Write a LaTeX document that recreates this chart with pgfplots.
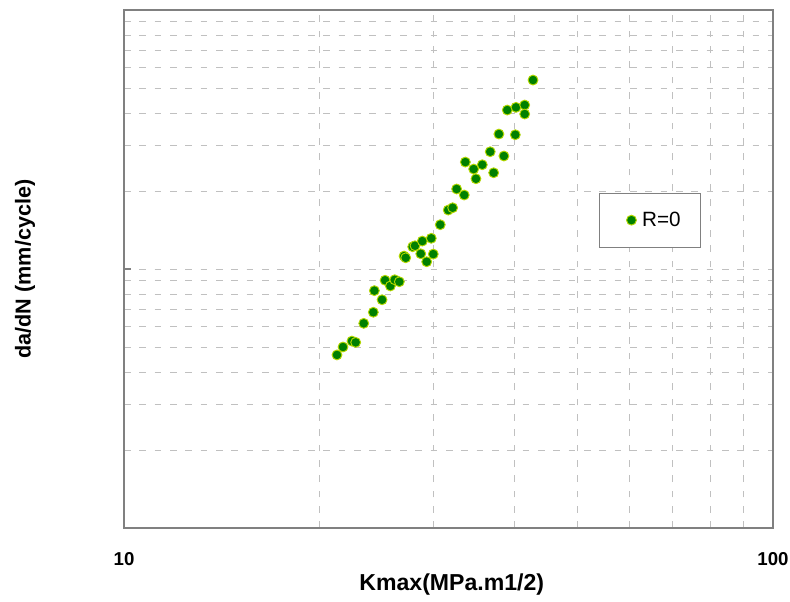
\documentclass[border=0pt]{standalone}
\usepackage{fontspec}
\setmainfont{Liberation Sans}
\usepackage{pgfplots}
\pgfplotsset{compat=1.18}
\definecolor{dgreen}{RGB}{0,128,0}
\definecolor{ygreen}{RGB}{180,215,0}
\definecolor{gridgray}{RGB}{192,192,192}
\begin{document}
\begin{tikzpicture}
\path[use as bounding box] (-93pt,-54.75pt) rectangle (499.5pt,396pt);
\begin{axis}[
  at={(0,0)}, anchor=south west,
  scale only axis, width=486.75pt, height=388.5pt,
  xmode=log, ymode=log,
  xmin=10, xmax=100, ymin=1e-5, ymax=1e-3,
  axis line style={gray, line width=0.8pt},
  grid=both,
  major grid style={gridgray, dash pattern=on 5pt off 6.5pt, line width=0.6pt},
  minor grid style={gridgray, dash pattern=on 5pt off 6.5pt, line width=0.6pt},
  xtick={10,100}, xticklabels={\textbf{10},\textbf{100}},
  ytick={1e-5,1e-4,1e-3}, yticklabels={},
  xtick pos=bottom, ytick pos=left,
  tick align=inside, major tick length=5pt, minor tick length=0pt,
  tick style={gray, line width=0.8pt},
  xticklabel style={font=\fontsize{14}{16}\selectfont, anchor=center, yshift=-23pt},
  xlabel={\textbf{Kmax(MPa.m1/2)}},
  ylabel={\textbf{da/dN (mm/cycle)}},
  xlabel style={font=\fontsize{17.3}{20}\selectfont, at={(axis description cs:0.505,-0.11)}, anchor=center},
  ylabel style={font=\fontsize{16.2}{19}\selectfont, at={(axis description cs:-0.1525,0.5)}, anchor=center},
  legend style={at={(0.732,0.647)}, anchor=north west, draw=gray, line width=0.6pt,
    font=\fontsize{15.5}{18}\selectfont, inner xsep=13pt, inner ysep=12pt},
  legend cell align=left,
  legend image code/.code={\path[draw=none,fill=none] (-11pt,0pt) (6pt,0pt);
    \draw[#1] plot coordinates {(0pt,0pt)};},
]
\addplot[only marks, mark=*, mark size=3.7pt, mark options={fill=dgreen, draw=ygreen, line width=0.7pt}]
coordinates {
(21.29,4.66e-5) (21.75,5.00e-5) (22.45,5.27e-5) (22.75,5.21e-5)
(23.41,6.17e-5) (24.22,6.81e-5) (24.31,8.25e-5) (24.98,7.61e-5)
(25.25,9.05e-5) (25.73,8.60e-5) (26.13,9.09e-5) (26.56,8.93e-5)
(27.01,1.122e-4) (27.17,1.105e-4) (27.85,1.219e-4) (28.08,1.230e-4)
(28.66,1.145e-4) (28.82,1.282e-4) (29.27,1.067e-4) (29.75,1.314e-4)
(29.96,1.142e-4) (30.71,1.483e-4) (31.59,1.689e-4) (32.09,1.724e-4)
(32.55,2.037e-4) (33.44,1.931e-4) (33.57,2.588e-4) (34.58,2.432e-4)
(34.86,2.231e-4) (35.65,2.527e-4) (36.67,2.837e-4) (37.12,2.353e-4)
(37.82,3.320e-4) (38.50,2.731e-4) (38.96,4.110e-4) (40.08,3.300e-4)
(40.18,4.210e-4) (41.44,4.297e-4) (41.44,3.967e-4) (42.68,5.366e-4)
};
\addlegendentry{R=0}
\end{axis}
\end{tikzpicture}
\end{document}
